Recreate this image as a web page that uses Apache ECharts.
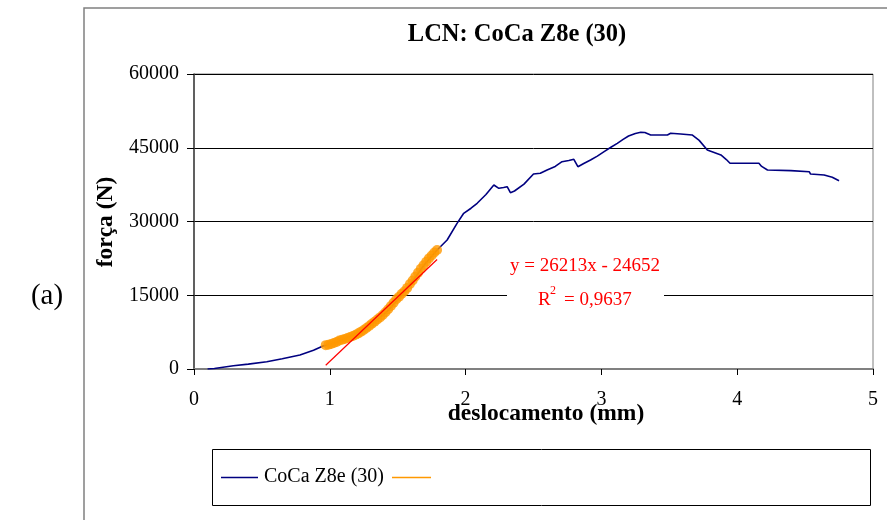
<!DOCTYPE html>
<html><head><meta charset="utf-8">
<script src="https://cdn.jsdelivr.net/npm/echarts@6.0.0/dist/echarts.min.js"></script>
<style>html,body{margin:0;padding:0;background:#fff}#c{width:887px;height:520px}</style>
</head><body><div id="c"></div>
<script>
// ---- data ----
const titleText = 'LCN: CoCa Z8e (30)';
const xName = 'deslocamento (mm)';
const yName = 'força (N)';
const panelLabel = '(a)';
const seriesName = 'CoCa Z8e (30)';
const xTicks = [0, 1, 2, 3, 4, 5];
const yTicks = [0, 15000, 30000, 45000, 60000];

const curveX = [0.10,0.15,0.29,0.40,0.536,0.65,0.78,0.88,0.95,0.97,1.05,1.10,1.20,1.27,1.347,1.42,1.495,1.52,1.593,1.617,1.69,1.79,1.864,1.937,1.986,2.04,2.085,2.15,2.208,2.245,2.28,2.306,2.33,2.36,2.43,2.50,2.55,2.60,2.66,2.71,2.76,2.797,2.81,2.827,2.87,2.92,2.97,3.02,3.07,3.117,3.16,3.20,3.25,3.29,3.32,3.363,3.486,3.51,3.584,3.668,3.72,3.78,3.88,3.92,3.947,4.16,4.18,4.223,4.395,4.53,4.54,4.64,4.70,4.75];
const curveY = [0,100,670,1000,1490,2100,2850,3800,4680,4800,5500,6040,7260,8300,9970,11650,14000,14700,17400,18100,21000,24200,26240,29630,31670,32700,33700,35500,37430,36750,36900,37080,35870,36200,37600,39660,39800,40480,41200,42170,42400,42650,42500,41150,41800,42510,43300,44200,45100,45900,46700,47390,47900,48140,48100,47600,47600,47940,47800,47600,46500,44540,43530,42600,41840,41840,41200,40480,40340,40130,39660,39460,39000,38300];

const fitX = [0.97,0.99,1.01,1.03,1.05,1.07,1.09,1.11,1.13,1.15,1.17,1.19,1.21,1.23,1.25,1.27,1.29,1.31,1.33,1.35,1.37,1.39,1.41,1.43,1.45,1.47,1.49,1.51,1.53,1.55,1.57,1.59,1.61,1.63,1.65,1.67,1.69,1.71,1.73,1.75,1.77,1.79];
const fitY = [4850,4950,5100,5300,5500,5800,5950,6100,6300,6500,6700,6950,7250,7600,7950,8350,8750,9200,9600,10050,10500,11000,11550,12150,12800,13500,14200,14700,15300,15800,16500,17300,18000,18800,19600,20400,21100,21800,22500,23100,23700,24200];

const trendSlope = 26213;
const trendIntercept = -24652;
const trendRange = [0.97, 1.79];
const trendEquation = 'y = 26213x - 24652';
const trendR2 = '0,9637';

// ---- chart ----
const FONT = "'Liberation Serif','Times New Roman',serif";
const chart = echarts.init(document.getElementById('c'), null, {renderer: 'canvas'});
const curve = curveX.map((x, i) => [x, curveY[i]]);
const fit = fitX.map((x, i) => [x, fitY[i]]);
const trend = trendRange.map(x => [x, trendSlope * x + trendIntercept]);

chart.setOption({
  animation: false,
  backgroundColor: '#ffffff',
  grid: {left: 194, right: 14, top: 74, bottom: 151, show: true, borderColor: '#808080', borderWidth: 1, backgroundColor: 'transparent'},
  xAxis: {
    type: 'value', min: xTicks[0], max: xTicks[xTicks.length - 1], interval: 1,
    axisLine: {show: true, onZero: false, lineStyle: {color: '#808080', width: 2}},
    axisTick: {show: true, inside: false, length: 6, lineStyle: {color: '#000', width: 1}},
    axisLabel: {fontFamily: FONT, fontSize: 20, color: '#000', margin: 31, verticalAlign: 'middle', formatter: v => String(v)},
    splitLine: {show: false}
  },
  yAxis: {
    type: 'value', min: yTicks[0], max: yTicks[yTicks.length - 1], interval: 15000,
    axisLine: {show: true, lineStyle: {color: '#404040', width: 1.5}},
    axisTick: {show: true, inside: false, length: 7, lineStyle: {color: '#000', width: 1}},
    axisLabel: {fontFamily: FONT, fontSize: 20, color: '#000', margin: 15, formatter: v => String(v)},
    splitLine: {show: true, lineStyle: {color: '#000', width: 1}}
  },
  series: [
    {name: seriesName, type: 'line', data: curve, showSymbol: false, symbol: 'none',
     lineStyle: {color: '#000080', width: 1.6}, z: 2},
    {name: 'fit', type: 'scatter', data: fit, symbol: 'circle', symbolSize: 10,
     itemStyle: {color: '#FF9900'}, z: 3},
    {name: 'trend', type: 'line', data: trend, showSymbol: false, symbol: 'none',
     lineStyle: {color: '#FF0000', width: 1.2}, z: 4}
  ],
  graphic: [
    {type: 'rect', shape: {x: 84, y: 8, width: 900, height: 600}, style: {fill: 'none', stroke: '#808080', lineWidth: 1.5}, z: 0, silent: true},
    {type: 'text', x: 517, y: 35, style: {text: titleText, font: 'bold 24.5px ' + FONT, fill: '#000', align: 'center', verticalAlign: 'middle'}, z: 10},
    {type: 'text', x: 546, y: 414, style: {text: xName, font: 'bold 23.5px ' + FONT, fill: '#000', align: 'center', verticalAlign: 'middle'}, z: 10},
    {type: 'text', x: 106, y: 222, rotation: Math.PI / 2, style: {text: yName, font: 'bold 23.5px ' + FONT, fill: '#000', align: 'center', verticalAlign: 'middle'}, z: 10},
    {type: 'text', x: 47, y: 296, style: {text: panelLabel, font: '29px ' + FONT, fill: '#000', align: 'center', verticalAlign: 'middle'}, z: 10},
    // trendline label
    {type: 'rect', shape: {x: 507, y: 252, width: 157, height: 60}, style: {fill: '#fff'}, z: 5},
    {type: 'text', x: 585, y: 266, style: {text: trendEquation, font: '19px ' + FONT, fill: '#FF0000', align: 'center', verticalAlign: 'middle'}, z: 6},
    {type: 'text', x: 538, y: 300, style: {text: 'R', font: '19px ' + FONT, fill: '#FF0000', align: 'left', verticalAlign: 'middle'}, z: 6},
    {type: 'text', x: 550, y: 291, style: {text: '2', font: '12px ' + FONT, fill: '#FF0000', align: 'left', verticalAlign: 'middle'}, z: 6},
    {type: 'text', x: 564, y: 300, style: {text: '= ' + trendR2, font: '19px ' + FONT, fill: '#FF0000', align: 'left', verticalAlign: 'middle'}, z: 6},
    // legend
    {type: 'rect', shape: {x: 212.5, y: 449.5, width: 658, height: 56}, style: {fill: '#fff', stroke: '#000', lineWidth: 1}, z: 5},
    {type: 'line', shape: {x1: 221, y1: 477.5, x2: 258, y2: 477.5}, style: {stroke: '#000080', lineWidth: 1.6}, z: 6},
    {type: 'text', x: 264, y: 477, style: {text: seriesName, font: '20px ' + FONT, fill: '#000', align: 'left', verticalAlign: 'middle'}, z: 6},
    {type: 'line', shape: {x1: 392, y1: 477.5, x2: 431, y2: 477.5}, style: {stroke: '#FF9900', lineWidth: 1.6}, z: 6}
  ]
});
</script>
</body></html>
